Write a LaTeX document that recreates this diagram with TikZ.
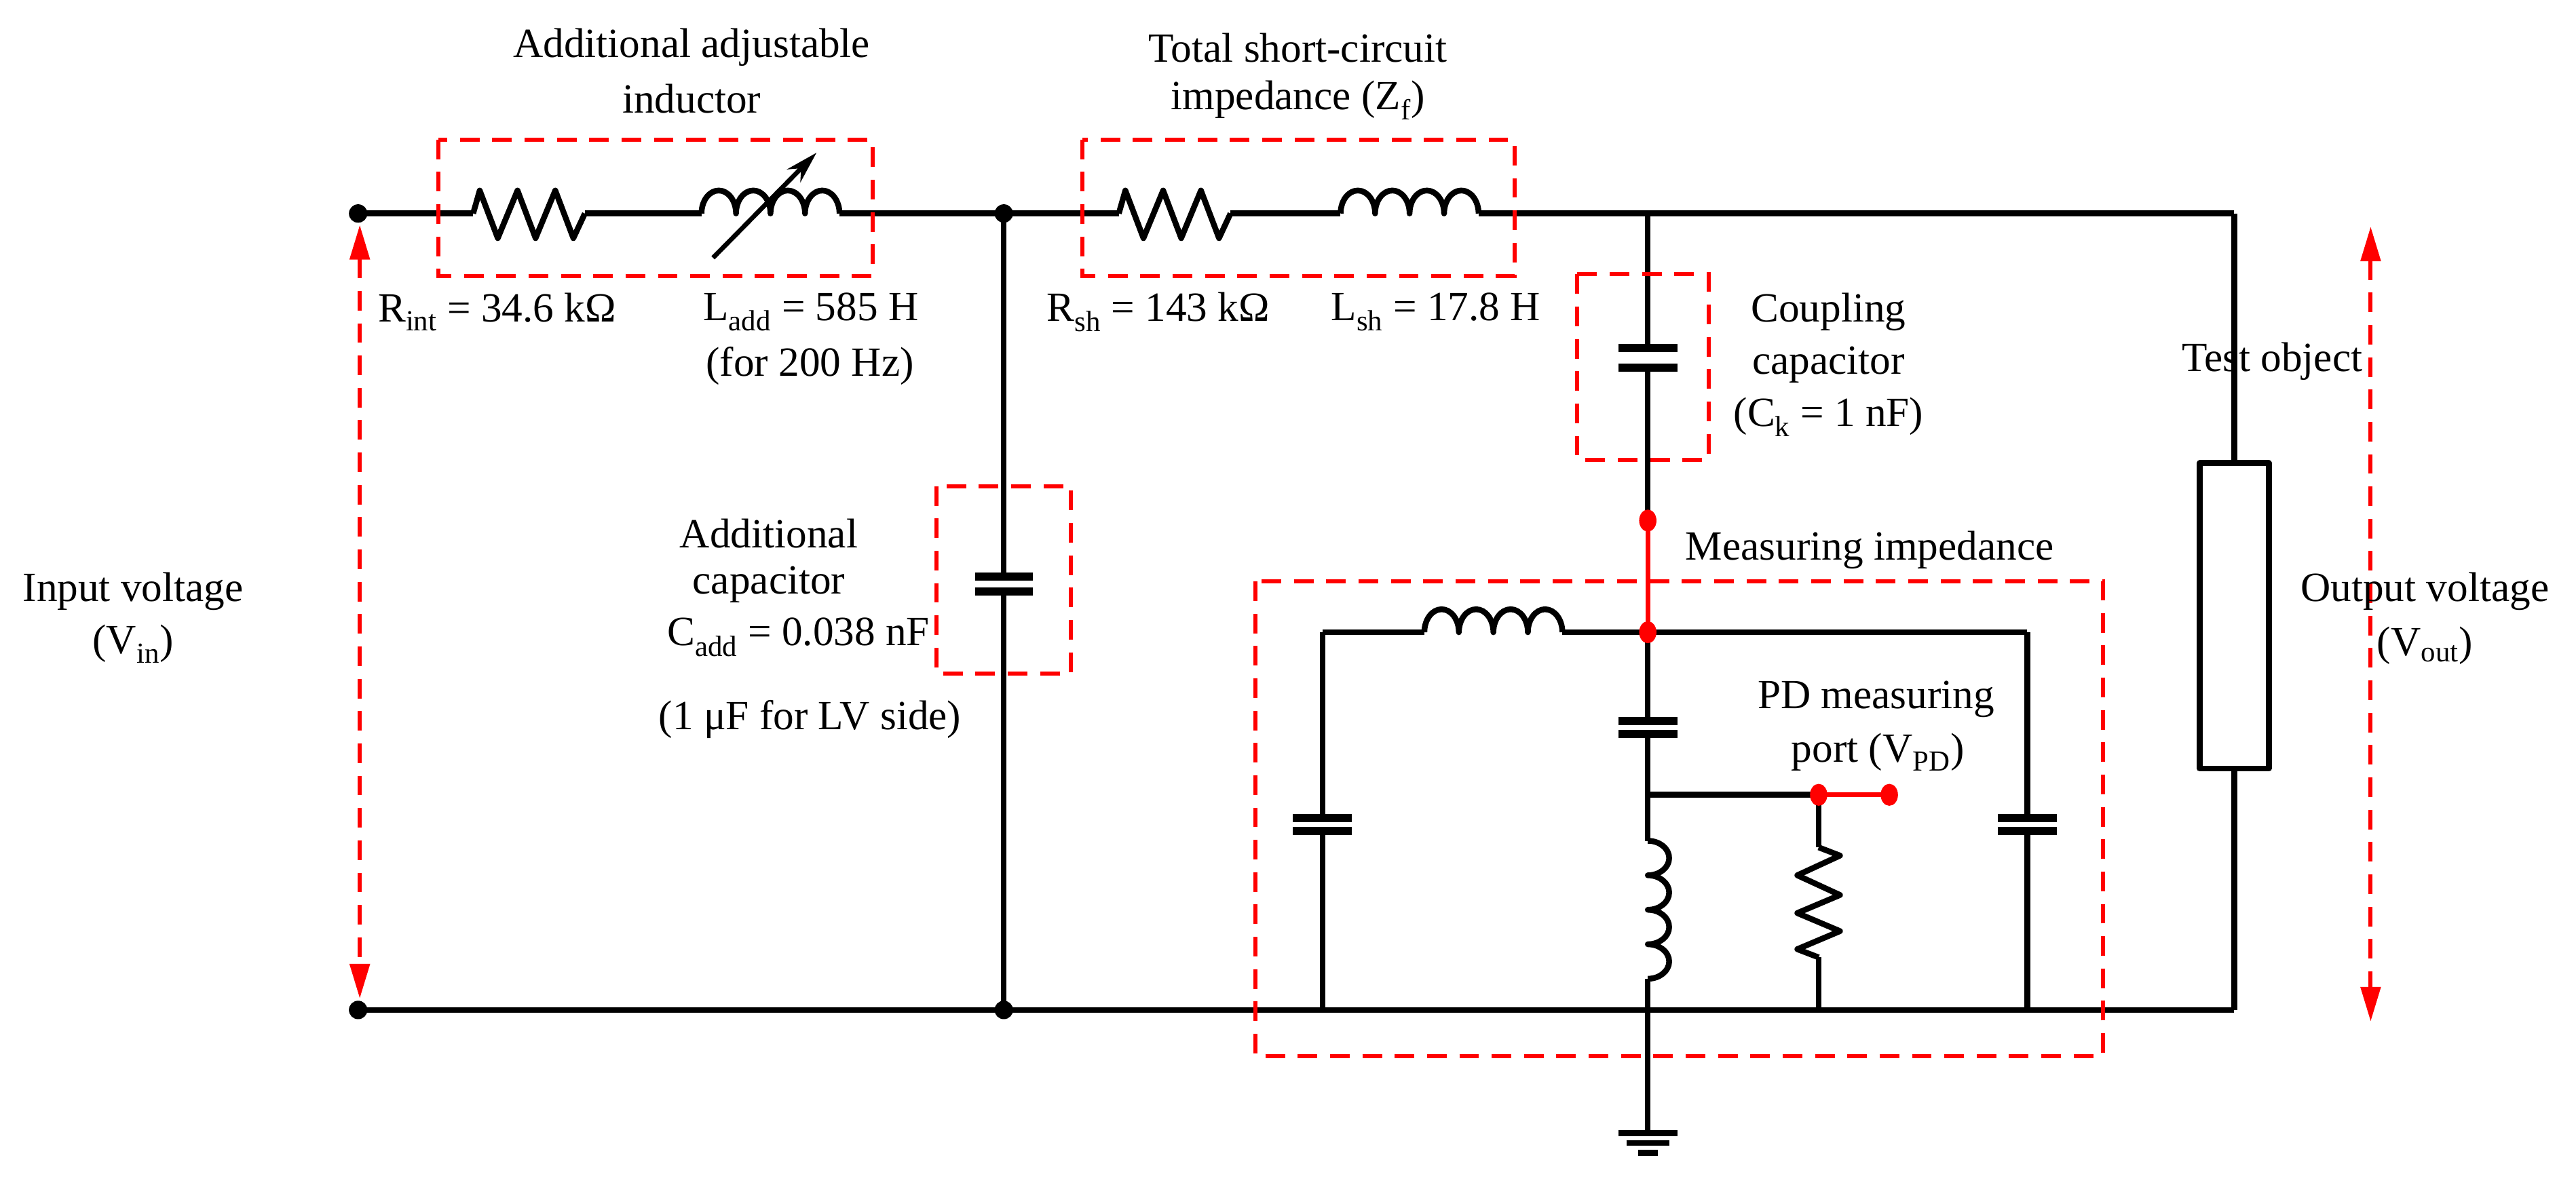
\documentclass[tikz,border=0pt]{standalone}
\usepackage{fontspec}
\setmainfont{Liberation Serif}
\usetikzlibrary{arrows.meta,shapes.geometric}
\begin{document}
\begin{tikzpicture}[x=0.05cm,y=-0.05cm,
  w/.style={line width=5pt,line join=round},
  rb/.style={red,line width=3.5pt,dash pattern=on 17pt off 11pt},
  plate/.style={line width=7pt},
  lbl/.style={inner sep=0pt,font=\fontsize{36}{40}\selectfont},
  dot/.style={circle,fill=black,inner sep=0pt,minimum size=16pt},
  rdot/.style={ellipse,fill=red,inner sep=0pt,minimum width=15pt,minimum height=19pt},
  resH/.pic={\draw[w] (0,0)--(4,-14)--(15,15)--(27,-14)--(38,15)--(50,-14)--(61,15)--(68,0);},
  indH/.pic={\draw[w] (0,0) arc[start angle=180,end angle=360,x radius=10.5,y radius=14]
     arc[start angle=180,end angle=360,x radius=10.5,y radius=14]
     arc[start angle=180,end angle=360,x radius=10.5,y radius=14]
     arc[start angle=180,end angle=360,x radius=10.5,y radius=14];},
  indV/.pic={\draw[w] (0,0) arc[start angle=-90,end angle=90,x radius=13,y radius=10.5]
     arc[start angle=-90,end angle=90,x radius=13,y radius=10.5]
     arc[start angle=-90,end angle=90,x radius=13,y radius=10.5]
     arc[start angle=-90,end angle=90,x radius=13,y radius=10.5];},
  resV/.pic={\draw[w] (0,0)--(13,5)--(-13,17)--(13,29)--(-13,40)--(13,51)--(-13,62)--(0,67);}
]
\useasboundingbox (0,0) rectangle (1568,720);
% named points
\coordinate (TL) at (218,130); \coordinate (BL) at (218,615);
\coordinate (J1) at (611,130); \coordinate (J2) at (611,615);
\coordinate (TR) at (1360,130); \coordinate (BR) at (1360,615);
\coordinate (C0) at (1003,130); \coordinate (MT) at (1003,385);
% top wire
\draw[w] (TL)--(288,130); \pic at (288,130) {resH};
\draw[w] (356,130)--(427,130); \pic at (427,130) {indH};
\draw[w] (511,130)--(681,130); \pic at (681,130) {resH};
\draw[w] (749,130)--(816,130); \pic at (816,130) {indH};
\draw[w] (900,130)--(TR);
% variable arrow
\draw[line width=4pt,-{Stealth[length=28pt,width=16pt]}] (434,157)--(497,93);
% bottom wire
\draw[w] (BL)--(BR);
% additional capacitor branch
\draw[w] (J1)--(611,351); \draw[plate] (593.5,351)--(628.5,351); \draw[plate] (593.5,360)--(628.5,360);
\draw[w] (611,360)--(J2);
% coupling capacitor
\draw[w] (C0)--(1003,212); \draw[plate] (985,212)--(1021,212); \draw[plate] (985,224)--(1021,224);
\draw[w] (1003,224)--(1003,317);
\draw[red,line width=4pt] (1003,317)--(MT);
% test object
\draw[w] (TR)--(1360,282); \draw[w] (1339,282) rectangle (1381,468); \draw[w] (1360,468)--(BR);
% measuring impedance
\draw[w] (805,385)--(867,385); \pic at (867,385) {indH}; \draw[w] (951,385)--(1234,385);
\draw[w] (805,385)--(805,498); \draw[plate] (787,498)--(823,498); \draw[plate] (787,506)--(823,506); \draw[w] (805,506)--(805,615);
\draw[w] (1234,385)--(1234,498); \draw[plate] (1216,498)--(1252,498); \draw[plate] (1216,506)--(1252,506); \draw[w] (1234,506)--(1234,615);
\draw[w] (MT)--(1003,439); \draw[plate] (985,439)--(1021,439); \draw[plate] (985,447)--(1021,447);
\draw[w] (1003,447)--(1003,512); \pic at (1003,512) {indV}; \draw[w] (1003,596)--(1003,690);
\draw[w] (1003,484)--(1107,484); \draw[red,line width=4pt] (1107,484)--(1150,484);
\draw[w] (1107,484)--(1107,516); \pic at (1107,516) {resV}; \draw[w] (1107,583)--(1107,615);
% ground
\draw[line width=5pt] (985,690)--(1021,690); \draw[line width=5pt] (990,696)--(1016,696); \draw[line width=5pt] (997,702)--(1009,702);
% dots
\node[dot] at (TL) {}; \node[dot] at (BL) {}; \node[dot] at (J1) {}; \node[dot] at (J2) {};
\node[rdot] at (1003,317) {}; \node[rdot] at (MT) {}; \node[rdot] at (1107,484) {}; \node[rdot] at (1150,484) {};
% dashed boxes
\draw[rb] (267,85) rectangle (531,168);
\draw[rb] (659,85) rectangle (922,168);
\draw[rb] (960,167) rectangle (1040,280);
\draw[rb] (570,296) rectangle (652,410);
\draw[rb] (764,354) rectangle (1280,643);
% voltage arrows
\draw[rb,{Triangle[length=30pt,width=17pt]}-{Triangle[length=30pt,width=17pt]}] (219,137)--(219,608);
\draw[rb,{Triangle[length=30pt,width=17pt]}-{Triangle[length=30pt,width=17pt]}] (1443,138)--(1443,622);
% labels
\node[lbl] at (421,29) {Additional adjustable};
\node[lbl] at (421,60) {inductor};
\node[lbl] at (790,29) {Total short-circuit};
\node[lbl] at (790,61) {impedance (Z\textsubscript{f})};
\node[lbl,anchor=west] at (230,190) {R\textsubscript{int} = 34.6 kΩ};
\node[lbl,anchor=west] at (428,190) {L\textsubscript{add} = 585 H};
\node[lbl] at (493,223) {(for 200 Hz)};
\node[lbl,anchor=west] at (637,190) {R\textsubscript{sh} = 143 kΩ};
\node[lbl] at (874,190) {L\textsubscript{sh} = 17.8 H};
\node[lbl] at (1113,190) {Coupling};
\node[lbl] at (1113,222) {capacitor};
\node[lbl] at (1113,254) {(C\textsubscript{k} = 1 nF)};
\node[lbl] at (1383,220) {Test object};
\node[lbl] at (468,325) {Additional};
\node[lbl] at (468,356) {capacitor};
\node[lbl] at (486,388) {C\textsubscript{add} = 0.038 nF};
\node[lbl] at (493,438) {(1 μF for LV side)};
\node[lbl] at (81,360) {Input voltage};
\node[lbl] at (81,392) {(V\textsubscript{in})};
\node[lbl] at (1476,360) {Output voltage};
\node[lbl] at (1476,393) {(V\textsubscript{out})};
\node[lbl] at (1138,335) {Measuring impedance};
\node[lbl] at (1142,426) {PD measuring};
\node[lbl] at (1143,458) {port (V\textsubscript{PD})};
\end{tikzpicture}
\end{document}
